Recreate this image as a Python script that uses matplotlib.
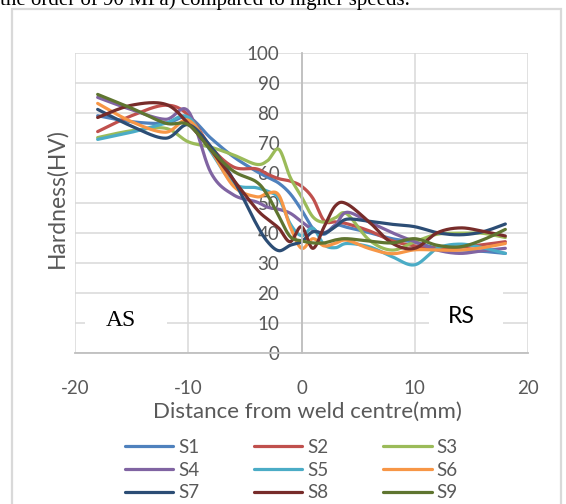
import numpy as np
import matplotlib
matplotlib.use('Agg')
import matplotlib.pyplot as plt
from matplotlib.patches import Rectangle
from matplotlib.lines import Line2D

# ---------------- data ----------------
distance = [-18, -15, -12, -10, -8, -6, -4, -3, -2, -1, 0, 1, 2, 3, 4, 6, 8, 10, 12, 14, 16, 18]
S1 = [79.0, 77.0, 76.5, 78.5, 71.5, 65.3, 60.5, 58.5, 56.5, 53.0, 47.6, 41.5, 39.5, 42.5, 41.8, 40.0, 38.0, 36.8, 34.8, 34.3, 33.8, 33.1]
S2 = [73.7, 79.0, 82.5, 79.2, 68.5, 61.9, 61.3, 59.5, 58.0, 57.2, 55.5, 51.5, 44.0, 43.6, 43.0, 40.6, 37.3, 35.6, 34.8, 35.2, 36.0, 37.0]
S3 = [71.7, 74.0, 74.8, 70.3, 68.5, 65.9, 62.8, 64.0, 67.8, 58.5, 52.0, 45.3, 43.5, 45.0, 46.3, 37.5, 34.2, 37.0, 39.5, 39.8, 39.8, 38.4]
S4 = [85.1, 81.0, 77.8, 80.5, 60.0, 52.6, 50.3, 48.5, 47.8, 46.5, 43.7, 41.0, 40.0, 42.5, 46.8, 43.5, 40.0, 37.0, 34.2, 33.1, 34.0, 34.8]
S5 = [71.1, 73.5, 76.5, 78.5, 67.0, 56.4, 55.0, 53.8, 51.5, 43.0, 39.0, 41.5, 36.0, 35.0, 36.4, 35.3, 32.0, 29.3, 34.8, 36.2, 35.0, 33.1]
S6 = [83.1, 77.0, 73.5, 77.5, 67.6, 55.5, 52.0, 53.1, 52.5, 42.0, 34.8, 38.0, 35.6, 36.5, 37.5, 34.7, 33.0, 34.3, 34.2, 34.2, 35.0, 36.4]
S7 = [81.1, 75.5, 71.5, 76.0, 68.7, 57.6, 43.0, 37.0, 34.0, 35.8, 37.0, 40.3, 39.8, 42.0, 44.5, 43.8, 42.8, 42.0, 40.0, 39.3, 40.3, 42.9]
S8 = [78.4, 82.5, 82.8, 76.4, 67.6, 57.6, 48.0, 44.5, 41.5, 37.0, 42.0, 34.8, 42.0, 49.0, 49.6, 43.5, 36.5, 34.8, 40.0, 41.6, 40.5, 38.9]
S9 = [86.1, 81.5, 76.5, 76.0, 67.6, 60.5, 57.0, 52.5, 45.5, 38.7, 37.3, 36.6, 36.6, 37.6, 38.0, 37.2, 36.6, 38.0, 35.8, 35.3, 37.6, 41.1]

series_names = ['S1', 'S2', 'S3', 'S4', 'S5', 'S6', 'S7', 'S8', 'S9']
series_values = [S1, S2, S3, S4, S5, S6, S7, S8, S9]
colors = ['#4F81BD', '#C0504D', '#9BBB59', '#8064A2', '#4BACC6',
          '#F79646', '#2C4D75', '#772C2A', '#5F7530']

x_ticks = [-20, -10, 0, 10, 20]
y_ticks = [0, 10, 20, 30, 40, 50, 60, 70, 80, 90, 100]

# ---------------- figure ----------------
W, H = 566, 504
fig = plt.figure(figsize=(W / 100, H / 100), dpi=100)
fig.patch.set_facecolor('white')

L, R, B, T = 75, 528, 352.7, 52.7
ax = fig.add_axes([L / W, 1 - B / H, (R - L) / W, (B - T) / H])

SX = (R - L) / 40.0
SY = (B - T) / 100.0


def smooth(xs, ys, n=24):
    P = np.column_stack([np.asarray(xs, float) * SX, np.asarray(ys, float) * SY])
    out = []
    for i in range(len(P) - 1):
        p0 = P[i - 1] if i > 0 else P[i]
        p1 = P[i]
        p2 = P[i + 1]
        p3 = P[i + 2] if i + 2 < len(P) else P[i + 1]
        c1 = p1 + (p2 - p0) / 6.0
        c2 = p2 - (p3 - p1) / 6.0
        t = np.linspace(0, 1, n, endpoint=False)[:, None]
        b = (1 - t) ** 3 * p1 + 3 * (1 - t) ** 2 * t * c1 + 3 * (1 - t) * t ** 2 * c2 + t ** 3 * p2
        out.append(b)
    out.append(P[-1:])
    out = np.vstack(out)
    return out[:, 0] / SX, out[:, 1] / SY


tick_color = '#595959'
font = 'Lato'

# gridlines
for yv in y_ticks:
    ax.axhline(yv, color='#D9D9D9', lw=1.1, zorder=0.5)
for xv in x_ticks:
    ax.axvline(xv, color='#D9D9D9', lw=1.1, zorder=0.5)

# white text boxes
ax.add_patch(Rectangle((-19.1, 3.0), 7.2, 13.5, facecolor='white', edgecolor='none', zorder=0.8))
ax.add_patch(Rectangle((11.25, 6.0), 6.5, 19.0, facecolor='white', edgecolor='none', zorder=0.8))

for name, vals, c in zip(series_names, series_values, colors):
    xs, ys = smooth(distance, vals)
    ax.plot(xs, ys, color=c, lw=2.3, solid_capstyle='round', solid_joinstyle='round', zorder=2)

ax.text(-15.96, 10.6, 'AS', family='Liberation Serif', fontsize=17, color='black',
        ha='center', va='center', zorder=3)
ax.text(14.07, 12.2, 'RS', family=font, fontsize=16.5, color='black',
        ha='center', va='center', zorder=3)

ax.set_xlim(-20, 20)
ax.set_ylim(0, 100)
ax.set_xticks(x_ticks)
ax.set_yticks(y_ticks)
ax.set_xticklabels([str(v) for v in x_ticks])
ax.set_yticklabels([str(v) for v in y_ticks])

ax.spines['left'].set_position(('data', 0))
ax.spines['left'].set_color('#BFBFBF')
ax.spines['left'].set_linewidth(1.3)
ax.spines['bottom'].set_color('#BFBFBF')
ax.spines['bottom'].set_linewidth(1.3)
ax.spines['top'].set_visible(False)
ax.spines['right'].set_visible(False)
ax.set_facecolor('none')

ax.tick_params(axis='x', length=0, pad=20, labelsize=13.5, labelcolor=tick_color)
ax.tick_params(axis='y', length=0, pad=16, labelsize=13.5, labelcolor=tick_color)
for lab in ax.get_xticklabels() + ax.get_yticklabels():
    lab.set_family(font)

fig.text(57 / W, 1 - 198 / H, 'Hardness(HV)', rotation=90, ha='center', va='center',
         family=font, fontsize=16.5, color=tick_color)
fig.text(307 / W, 1 - 412 / H, 'Distance from weld centre(mm)', ha='center', va='center',
         family=font, fontsize=16, color=tick_color)

# legend (row-major order like the reference)
handles = [Line2D([0], [0], color=c, lw=2.3, solid_capstyle='round') for c in colors]
order = [0, 3, 6, 1, 4, 7, 2, 5, 8]
leg = fig.legend([handles[i] for i in order], [series_names[i] for i in order],
                 loc='center', bbox_to_anchor=(291 / W, 1 - 470 / H), ncol=3,
                 frameon=False, handlelength=2.6, handletextpad=0.25,
                 columnspacing=2.9, labelspacing=0.3,
                 prop={'family': font, 'size': 13.5})
for t in leg.get_texts():
    t.set_color(tick_color)

# chart border
fig.patches.append(Rectangle((12.3 / W, -0.05), (561 - 12.3) / W, 1 - 9 / H + 0.05,
                             transform=fig.transFigure, fill=False,
                             edgecolor='#D9D9D9', lw=1.6))

# cut-off text of the page above
fig.text(0 / W, 1 - 5 / H, 'the order of 90 MPa) compared to higher speeds.',
         ha='left', va='baseline', family='Liberation Serif', fontsize=15, color='black')

fig.savefig('out.png', dpi=100)
